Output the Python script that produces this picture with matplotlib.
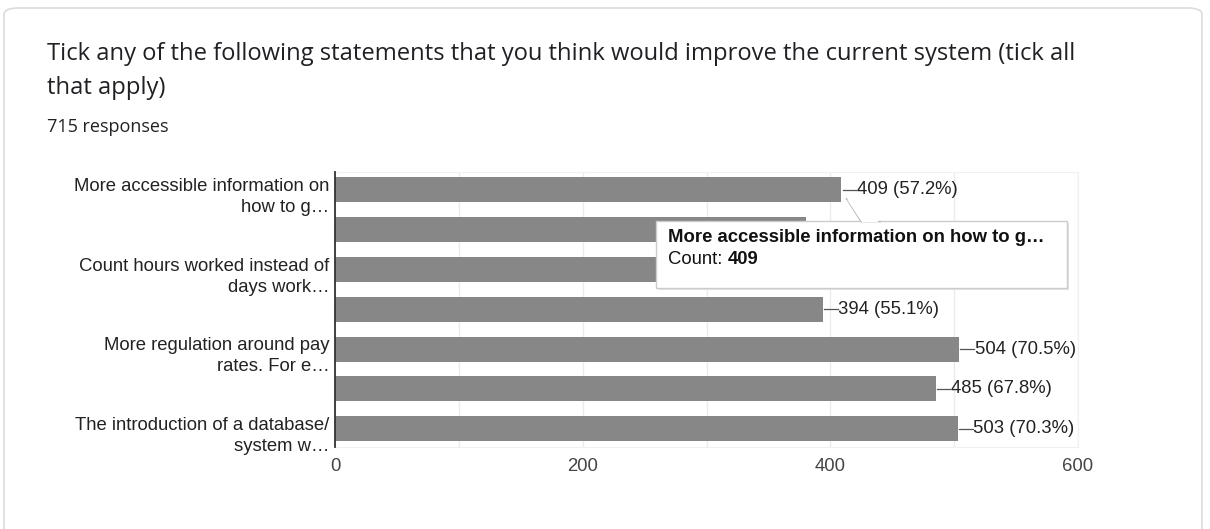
import matplotlib
matplotlib.use("Agg")
import matplotlib.pyplot as plt
from matplotlib.patches import FancyBboxPatch, Polygon
from matplotlib.transforms import ScaledTranslation

# Survey results: counts per statement (715 responses)
categories = [
    "More accessible information on\nhow to g…",
    "",
    "Count hours worked instead of\ndays work…",
    "",
    "More regulation around pay\nrates. For e…",
    "",
    "The introduction of a database/\nsystem w…",
]
counts = [409, 380, 345, 394, 504, 485, 503]
total_responses = 715
xticks = [0, 200, 400, 600]

title_lines = ["Tick any of the following statements that you think would improve the current system (tick all",
               "that apply)"]
subtitle = f"{total_responses} responses"
tooltip_title = "More accessible information on how to g…"
tooltip_count = counts[0]

LABEL_FONT = "Liberation Sans"
LABEL_SIZE = 13.3

W, H = 1210, 529
fig = plt.figure(figsize=(W / 100, H / 100), dpi=100)
fig.patch.set_facecolor("white")

# card outline
card = FancyBboxPatch((4 / W, -20 / H), 1198 / W, (H - 8 + 20) / H,
                      boxstyle="round,pad=0,rounding_size=0.012",
                      transform=fig.transFigure, facecolor="none",
                      edgecolor="#dadce0", linewidth=1.2, zorder=-1)
fig.patches.append(card)

for i, line in enumerate(title_lines):
    fig.text(47 / W, 1 - (60 + 34 * i) / H, line, ha="left", va="baseline",
             fontsize=17.1, family="Open Sans", color="#202124")
fig.text(47 / W, 1 - 132 / H, subtitle, ha="left", va="baseline", fontsize=13,
         family="Open Sans", color="#202124")

x0, x1 = 335, 1078
y_top, y_bot = 172, 446.6
ax = fig.add_axes([x0 / W, 1 - y_bot / H, (x1 - x0) / W, (y_bot - y_top) / H])
ax.set_xlim(0, 600)
ax.set_ylim(6.45, -0.45)

ypos = list(range(len(counts)))
ax.barh(ypos, counts, height=0.63, color="#878787", zorder=2)

ax.set_xticks(xticks)
ax.set_xticks(range(0, 601, 100), minor=True)
ax.grid(True, axis="x", which="both", color="#ebebeb", linewidth=1, zorder=0)
ax.tick_params(axis="x", which="both", length=0, pad=8, labelsize=LABEL_SIZE,
               labelcolor="#444444")
ax.set_yticks(ypos)
ax.set_yticklabels(categories, fontsize=LABEL_SIZE, color="#222222",
                   linespacing=1.32)
ax.tick_params(axis="y", length=0, pad=4)
shift_down = ScaledTranslation(0, -3 / 100, fig.dpi_scale_trans)
for lab in ax.get_yticklabels():
    lab.set_transform(lab.get_transform() + shift_down)
for lab in ax.get_xticklabels() + ax.get_yticklabels():
    lab.set_family(LABEL_FONT)

for s in ["top", "right", "bottom"]:
    ax.spines[s].set_color("#f0f0f0")
ax.spines["left"].set_color("#333333")
ax.spines["left"].set_linewidth(1.3)
ax.spines["left"].set_zorder(3)

# value annotations with leader lines
for y, c in zip(ypos, counts):
    pct = 100 * c / total_responses
    ax.plot([c + 1, c + 12], [y, y], color="#555555", lw=0.9, zorder=3,
            clip_on=False)
    ax.text(c + 12.5, y, f"{c} ({pct:.1f}%)", ha="left", va="center",
            fontsize=LABEL_SIZE, family=LABEL_FONT, color="#222222", zorder=3)

# hover tooltip for the first bar
ax_tip = fig.add_axes([0, 0, 1, 1], facecolor="none")
ax_tip.set_xlim(0, W)
ax_tip.set_ylim(H, 0)
ax_tip.axis("off")
bx0, by0, bx1, by1 = 656, 221, 1067, 288
shadow = FancyBboxPatch((bx0 + 1.5, by0 + 1.5), bx1 - bx0, by1 - by0,
                        boxstyle="square,pad=0", facecolor="#e4e4e4",
                        edgecolor="none", zorder=5)
ax_tip.add_patch(shadow)
box = FancyBboxPatch((bx0, by0), bx1 - bx0, by1 - by0,
                     boxstyle="square,pad=0", facecolor="white",
                     edgecolor="#cccccc", linewidth=1, zorder=6)
ax_tip.add_patch(box)
pointer = Polygon([(846, 198), (861, by0 + 0.6), (881, by0 + 0.6)],
                  closed=False, facecolor="white", edgecolor="#bbbbbb",
                  linewidth=1, zorder=7)
ax_tip.add_patch(pointer)
ax_tip.add_patch(Polygon([(847, 199.5), (862, by0 + 1.2), (879, by0 + 1.2)],
                         closed=True, facecolor="white", edgecolor="none",
                         zorder=7))
ax_tip.text(668, 238, tooltip_title, ha="left", va="center", fontsize=LABEL_SIZE,
            fontweight="bold", family=LABEL_FONT, color="#111111", zorder=8)
count_lbl = ax_tip.text(668, 259, "Count: ", ha="left", va="center",
                        fontsize=LABEL_SIZE, family=LABEL_FONT,
                        color="#111111", zorder=8)
fig.canvas.draw()
bb = count_lbl.get_window_extent()
ax_tip.text(bb.x1, 259, f"{tooltip_count}", ha="left", va="center",
            fontsize=LABEL_SIZE, fontweight="bold", family=LABEL_FONT,
            color="#111111", zorder=8)

fig.savefig("out.png", dpi=100, facecolor="white")
